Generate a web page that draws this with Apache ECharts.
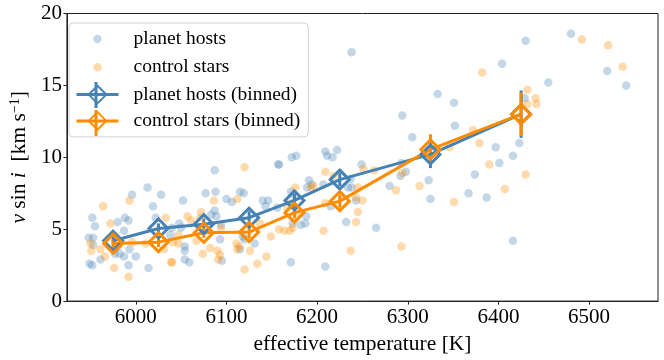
<!DOCTYPE html>
<html lang="en">
<head>
    <meta charset="UTF-8">
    <title>vsini vs Teff</title>
</head>
<body style="margin:0">
<div class="main" style="width: 664px;height: 360px;"></div>
</body>
<script src="https://cdn.jsdelivr.net/npm/echarts@6/dist/echarts.min.js"></script>
<script>
    // individual stars (Teff [K], vsini [km/s])
    var hostTeff = [6013, 5996, 6028, 6019, 5952, 5988, 5992, 5980, 5955, 6022, 5987, 5948, 5953, 5953, 5980, 5977, 5982, 5993, 5987, 6000,
        5961, 5949, 5952, 5992, 6014, 6038, 6087, 6157, 6052, 6077, 6088, 6115, 6119, 6100, 6106, 6140, 6146, 6143, 6087, 6083,
        6089, 6048, 6050, 6094, 6040, 6093, 6118, 6120, 6131, 6054, 6054, 6054, 6059, 6095, 6115, 6156, 6209, 6211, 6217, 6222,
        6172, 6177, 6158, 6249, 6191, 6189, 6194, 6171, 6174, 6207, 6237, 6234, 6238, 6243, 6215, 6188, 6187, 6182, 6173, 6232,
        6265, 6404, 6333, 6351, 6294, 6352, 6305, 6397, 6423, 6416, 6401, 6293, 6292, 6298, 6280, 6323, 6325, 6374, 6367, 6387,
        6416, 6430, 6480, 6520, 6541, 6455, 6429, 6238, 6171, 6209];
    var hostVsini = [7.9, 7.4, 7.4, 6.6, 5.8, 5.8, 5.6, 5.5, 5.2, 5.8, 4.9, 4.4, 4.4, 3.9, 3.8, 3.3, 3.3, 3.6, 3.1, 3.1,
        2.9, 2.6, 2.5, 2.5, 2.3, 4.6, 9.1, 9.5, 7.0, 7.5, 7.6, 7.6, 7.5, 7.1, 6.9, 7.0, 7.0, 6.6, 6.3, 6.0,
        5.9, 5.4, 5.1, 5.3, 5.1, 4.3, 4.5, 4.3, 4.0, 3.8, 3.5, 2.9, 2.7, 2.8, 3.6, 6.5, 10.4, 10.1, 10.0, 10.5,
        10.0, 10.1, 9.5, 9.5, 8.4, 7.9, 8.1, 7.6, 7.4, 8.1, 8.5, 7.9, 7.9, 7.0, 6.6, 5.9, 5.4, 5.3, 5.4, 5.5,
        5.1, 16.5, 14.4, 13.8, 12.9, 12.2, 11.4, 10.7, 11.0, 10.1, 9.6, 9.6, 8.7, 9.0, 8.0, 8.4, 7.1, 8.8, 7.5, 7.2,
        4.2, 18.1, 18.6, 16.0, 15.0, 15.2, 14.1, 17.3, 2.7, 2.4];

    var ctrlTeff = [5964, 5993, 5972, 6033, 5950, 5951, 5961, 5966, 5976, 5992, 5996, 6011, 6031, 6039, 6120, 6086, 6112, 6057, 6061, 6072,
        6071, 6047, 6041, 6047, 6067, 6094, 6111, 6114, 6112, 6082, 6090, 6093, 6091, 6074, 6126, 6137, 6149, 6144, 6134, 6120,
        6040, 6209, 6218, 6251, 6193, 6196, 6176, 6245, 6243, 6250, 6167, 6171, 6209, 6245, 6243, 6158, 6164, 6170, 6173, 6207,
        6178, 6382, 6372, 6379, 6346, 6390, 6294, 6287, 6313, 6351, 6407, 6293, 6492, 6521, 6537, 6432, 6441, 6442, 6432, 6263,
        6430, 6237];
    var ctrlVsini = [6.6, 7.0, 5.4, 5.8, 4.0, 3.5, 3.6, 3.1, 2.3, 1.7, 4.1, 4.0, 3.6, 2.7, 9.3, 7.0, 7.1, 5.9, 5.6, 6.2,
        5.8, 4.6, 4.1, 4.0, 4.2, 5.1, 4.0, 3.8, 3.6, 3.7, 3.5, 3.2, 2.9, 3.3, 3.5, 5.4, 4.5, 3.1, 2.6, 2.2,
        2.7, 9.0, 8.7, 9.2, 7.9, 8.0, 7.9, 7.9, 7.2, 7.0, 6.5, 6.8, 6.8, 6.2, 5.5, 5.0, 4.9, 4.9, 5.1, 4.9,
        6.0, 15.9, 11.9, 11.0, 10.7, 9.5, 8.9, 7.7, 8.0, 6.9, 7.8, 3.8, 18.2, 17.8, 16.3, 14.7, 14.1, 13.7, 13.7, 9.1,
        8.8, 3.5];

    // binned means with errors
    var binTeff = [5975, 6025, 6075, 6125, 6175, 6225, 6325, 6425];
    var hostBinned = [4.2, 5.05, 5.35, 5.8, 7.0, 8.45, 10.2, 13.0];
    var hostErr = [0.3, 0.35, 0.4, 0.45, 0.45, 0.45, 0.95, 1.65];
    var ctrlBinned = [4.0, 4.1, 4.75, 4.8, 6.15, 6.95, 10.55, 13.0];
    var ctrlErr = [0.3, 0.35, 0.35, 0.45, 0.4, 0.45, 1.05, 1.5];

    var xTicks = [6000, 6100, 6200, 6300, 6400, 6500];

    var BLUE = "#4682b4";
    var ORANGE = "#ff8c00";
    var FONT = "'Liberation Serif', 'DejaVu Serif', serif";
    var LW = 3;

    function zipPts(xs, ys) {
        return xs.map(function (x, i) { return [x, ys[i]]; });
    }
    function errData(ys, es) {
        return binTeff.map(function (t, i) { return [t, ys[i] - es[i], ys[i] + es[i]]; });
    }
    function errSeries(name, ys, es, color) {
        return {
            type: "custom",
            name: name + "_err",
            data: errData(ys, es),
            encode: {x: 0, y: [1, 2]},
            renderItem: function (params, api) {
                var lo = api.coord([api.value(0), api.value(1)]);
                var hi = api.coord([api.value(0), api.value(2)]);
                return {
                    type: "line",
                    shape: {x1: lo[0], y1: lo[1], x2: hi[0], y2: hi[1]},
                    style: {stroke: color, lineWidth: LW}
                };
            }
        };
    }
    function binSeries(name, ys, color) {
        return {
            type: "line",
            name: name,
            data: zipPts(binTeff, ys),
            symbol: "diamond",
            symbolSize: 19,
            itemStyle: {color: "rgba(0,0,0,0)", borderColor: color, borderWidth: LW},
            lineStyle: {color: color, width: LW}
        };
    }

    var main = document.querySelector(".main");
    var chart = echarts.init(main);

    var dot = "path://M0,0M42,22M16.8,11a4.2,4.2 0 1 0 8.4,0a4.2,4.2 0 1 0 -8.4,0z";

    var option = {
        animation: false,
        grid: {left: 58, right: 6, top: 13.5, bottom: 55.5, show: true, borderColor: "#222", borderWidth: 1},
        legend: {
            orient: "vertical",
            left: 69, top: 23,
            padding: [5, 8, 6, 6],
            itemGap: 6.3,
            itemWidth: 42, itemHeight: 22,
            backgroundColor: "rgba(255,255,255,0.8)",
            borderColor: "#d0d0d0", borderWidth: 1, borderRadius: 4,
            textStyle: {fontFamily: FONT, fontSize: 19.5, color: "#000", padding: [0, 0, 0, 10]},
            data: [
                {name: "planet hosts", icon: dot},
                {name: "control stars", icon: dot},
                {name: "planet hosts (binned)", lineStyle: {width: LW}},
                {name: "control stars (binned)", lineStyle: {width: LW}}
            ]
        },
        // error bar stroke on the legend icons
        graphic: [
            {type: "line", z: 200, shape: {x1: 96, y1: 82, x2: 96, y2: 108}, style: {stroke: BLUE, lineWidth: LW}},
            {type: "line", z: 200, shape: {x1: 96, y1: 110, x2: 96, y2: 136}, style: {stroke: ORANGE, lineWidth: LW}}
        ],
        xAxis: {
            type: "value",
            min: 5924, max: 6576,
            name: "effective temperature [K]",
            nameLocation: "middle", nameGap: 28,
            nameTextStyle: {fontFamily: FONT, fontSize: 21.5, color: "#000"},
            axisLine: {lineStyle: {color: "#222"}},
            axisTick: {length: 3.5, lineStyle: {color: "#222"}, customValues: xTicks},
            axisLabel: {
                fontFamily: FONT, fontSize: 21, color: "#000", margin: 6, customValues: xTicks,
                formatter: function (v) { return String(v); }
            },
            splitLine: {show: false}
        },
        yAxis: {
            type: "value",
            min: 0, max: 20, interval: 5,
            name: "{it|v} sin {it|i}  [km s{sup|\u22121}]",
            nameLocation: "middle", nameGap: 32, nameRotate: 90,
            nameTextStyle: {
                fontFamily: FONT, fontSize: 21.5, color: "#000",
                rich: {
                    it: {fontFamily: FONT, fontSize: 21.5, fontStyle: "italic", color: "#000"},
                    sup: {fontFamily: FONT, fontSize: 14, color: "#000", verticalAlign: "top"}
                }
            },
            axisLine: {show: true, lineStyle: {color: "#222"}},
            axisTick: {show: true, length: 3.5, lineStyle: {color: "#222"}},
            axisLabel: {fontFamily: FONT, fontSize: 21, color: "#000", margin: 5},
            splitLine: {show: false}
        },
        series: [
            {
                type: "scatter", name: "planet hosts",
                data: zipPts(hostTeff, hostVsini),
                symbolSize: 8.5,
                itemStyle: {color: "rgba(70,130,180,0.4)"}
            },
            {
                type: "scatter", name: "control stars",
                data: zipPts(ctrlTeff, ctrlVsini),
                symbolSize: 8.5,
                itemStyle: {color: "rgba(255,140,0,0.4)"}
            },
            errSeries("planet hosts (binned)", hostBinned, hostErr, BLUE),
            binSeries("planet hosts (binned)", hostBinned, BLUE),
            errSeries("control stars (binned)", ctrlBinned, ctrlErr, ORANGE),
            binSeries("control stars (binned)", ctrlBinned, ORANGE)
        ]
    };

    chart.setOption(option);
</script>
</html>
